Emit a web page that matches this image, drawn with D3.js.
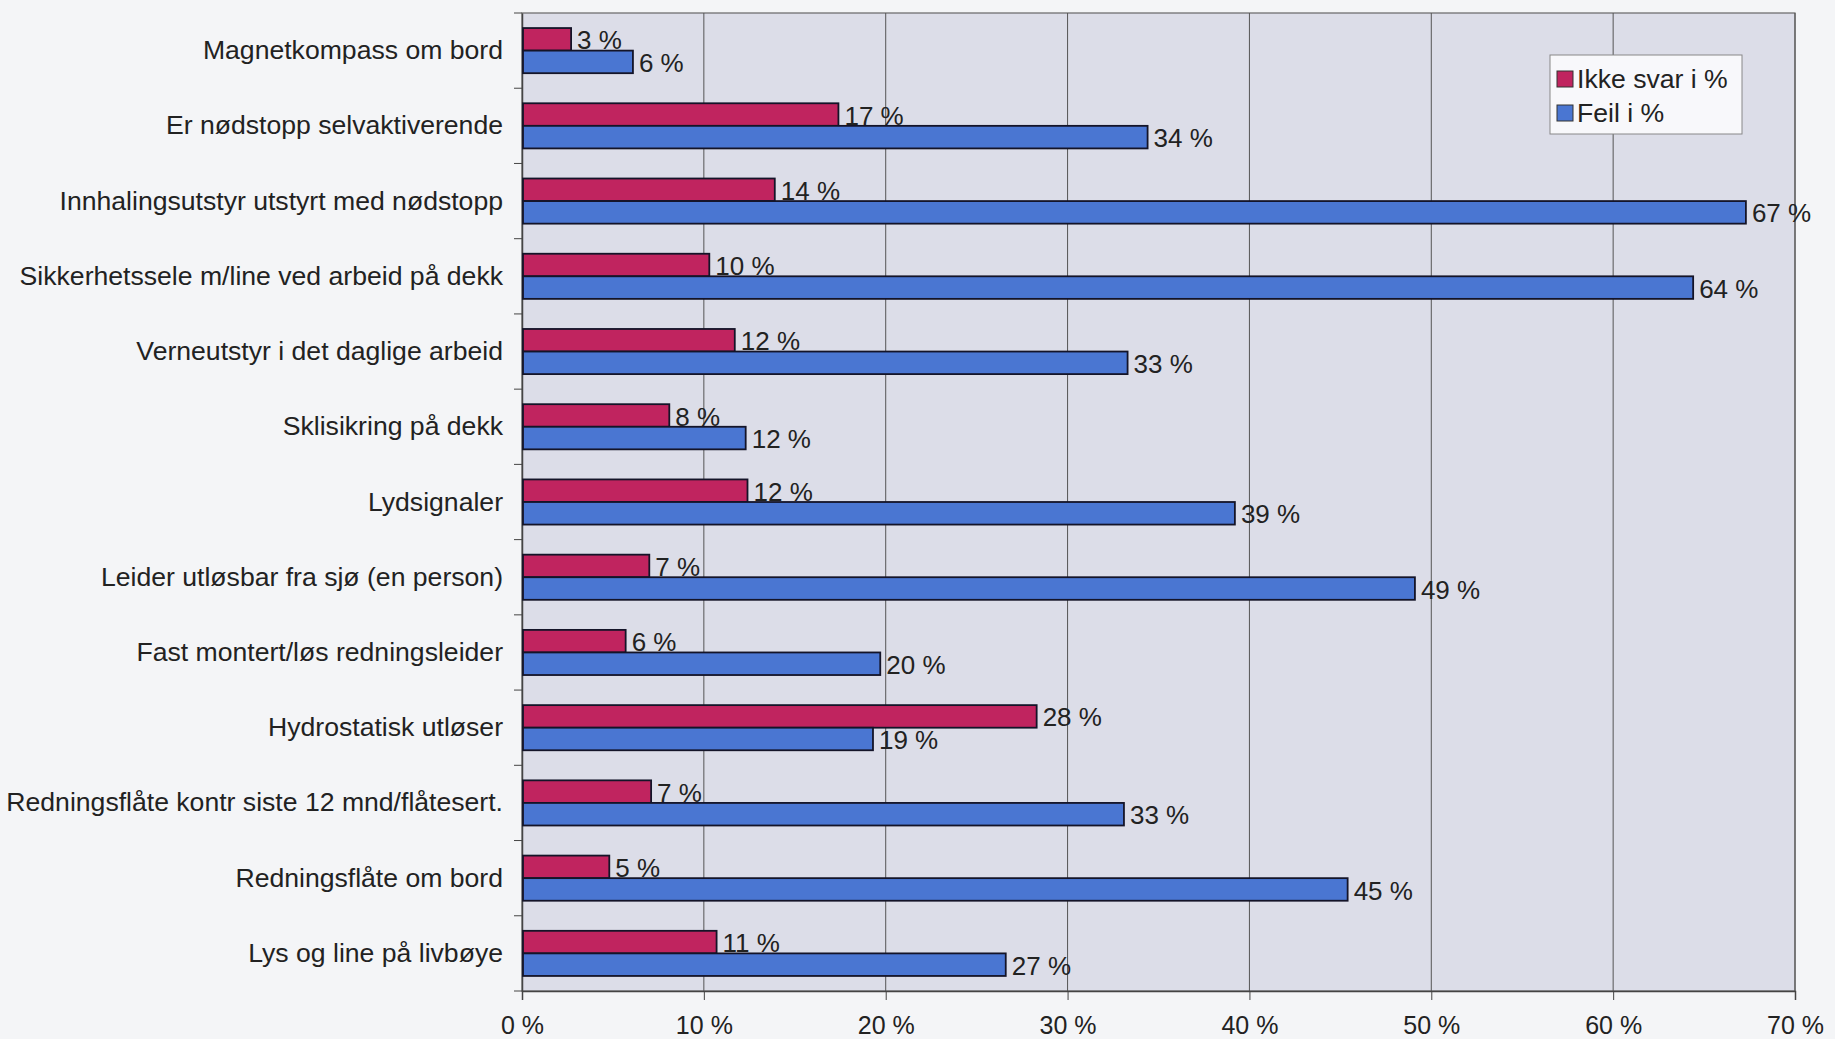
<!DOCTYPE html>
<html>
<head>
<meta charset="utf-8">
<script src="https://cdn.jsdelivr.net/npm/d3@7"></script>
<style>
  body { margin: 0; background: #f4f5f7; }
  text { font-family: "Liberation Sans", Arial, sans-serif; fill: #222; }
</style>
</head>
<body>
<div id="chart"></div>
<script>
// categories top to bottom
var categories = ["Magnetkompass om bord", "Er nødstopp selvaktiverende", "Innhalingsutstyr utstyrt med nødstopp",
    "Sikkerhetssele m/line ved arbeid på dekk", "Verneutstyr i det daglige arbeid", "Sklisikring på dekk",
    "Lydsignaler", "Leider utløsbar fra sjø (en person)", "Fast montert/løs redningsleider",
    "Hydrostatisk utløser", "Redningsflåte kontr siste 12 mnd/flåtesert.", "Redningsflåte om bord",
    "Lys og line på livbøye"]
var ikkeSvar = [2.7, 17.4, 13.9, 10.3, 11.7, 8.1, 12.4, 7.0, 5.7, 28.3, 7.1, 4.8, 10.7]
var feil = [6.1, 34.4, 67.3, 64.4, 33.3, 12.3, 39.2, 49.1, 19.7, 19.3, 33.1, 45.4, 26.6]
var xTicks = [0, 10, 20, 30, 40, 50, 60, 70]
var seriesNames = ["Ikke svar i %", "Feil i %"]
var seriesColors = ["#c0245f", "#4a76d2"]

var W = 1835, H = 1039
var margin = { top: 13, right: 40, bottom: 48, left: 522 }
var width = W - margin.left - margin.right,
    height = H - margin.top - margin.bottom

var svg = d3.select("#chart").append("svg")
    .attr("width", W).attr("height", H)
var g = svg.append("g")
    .attr("transform", "translate(" + margin.left + "," + margin.top + ")")

var x = d3.scaleLinear().domain([0, 70]).range([0, width])
var y = d3.scaleBand().domain(categories).range([0, height])
var sub = d3.scaleBand().domain([0, 1]).range([y.bandwidth() * 0.2, y.bandwidth() * 0.8])

// plot area
g.append("rect")
    .attr("width", width).attr("height", height)
    .attr("fill", "#dcdde8").attr("stroke", "#666").attr("stroke-width", 1.2)

// gridlines
g.selectAll(".grid").data(xTicks.slice(1))
    .enter().append("line")
    .attr("x1", d => x(d)).attr("x2", d => x(d))
    .attr("y1", 0).attr("y2", height)
    .attr("stroke", "#555").attr("stroke-width", 1)

// x axis
var xAxis = g.append("g")
    .attr("transform", "translate(0," + height + ")")
    .call(d3.axisBottom(x).tickValues(xTicks).tickSize(9).tickPadding(16).tickFormat(d => d + " %"))
xAxis.select(".domain").attr("stroke", "#444").attr("stroke-width", 1.5)
xAxis.selectAll("line").attr("stroke", "#444")
xAxis.selectAll("text").style("font-size", "25px").attr("fill", "#222")

// y axis
var yAxis = g.append("g")
    .call(d3.axisLeft(y).tickSize(0).tickPadding(19))
yAxis.select(".domain").attr("stroke", "#444").attr("stroke-width", 1.5)
yAxis.selectAll("text").style("font-size", "26.6px").attr("fill", "#222")
// ticks between categories
g.selectAll(".ytick").data(d3.range(categories.length + 1))
    .enter().append("line")
    .attr("x1", -8).attr("x2", 0)
    .attr("y1", d => d * y.step()).attr("y2", d => d * y.step())
    .attr("stroke", "#444")

var rows = categories.map((c, i) => ({ cat: c, vals: [ikkeSvar[i], feil[i]] }))

var grp = g.selectAll(".cat").data(rows)
    .enter().append("g")
    .attr("transform", d => "translate(0," + y(d.cat) + ")")

grp.selectAll("rect")
    .data(d => d.vals.map((v, j) => ({ v: v, j: j })))
    .enter().append("rect")
    .attr("x", 1)
    .attr("y", d => sub(d.j))
    .attr("width", d => x(d.v) - 1)
    .attr("height", sub.bandwidth())
    .attr("fill", d => seriesColors[d.j])
    .attr("stroke", "#141428").attr("stroke-width", 1.8)

grp.selectAll(".val")
    .data(d => d.vals.map((v, j) => ({ v: v, j: j })))
    .enter().append("text")
    .attr("x", d => x(d.v) + 6)
    .attr("y", d => sub(d.j) + sub.bandwidth() / 2 + 1)
    .attr("dy", "0.35em")
    .style("font-size", "26px")
    .text(d => Math.round(d.v) + " %")

// legend
var lg = svg.append("g").attr("transform", "translate(1550,55)")
lg.append("rect").attr("width", 192).attr("height", 79)
    .attr("fill", "#f8f8fb").attr("stroke", "#888")
seriesNames.forEach((n, i) => {
    lg.append("rect").attr("x", 7).attr("y", 16 + i * 34)
        .attr("width", 16).attr("height", 16)
        .attr("fill", seriesColors[i]).attr("stroke", "#333")
    lg.append("text").attr("x", 27).attr("y", 24 + i * 34)
        .attr("dy", "0.35em").style("font-size", "26.6px").text(n)
})
</script>
</body>
</html>
